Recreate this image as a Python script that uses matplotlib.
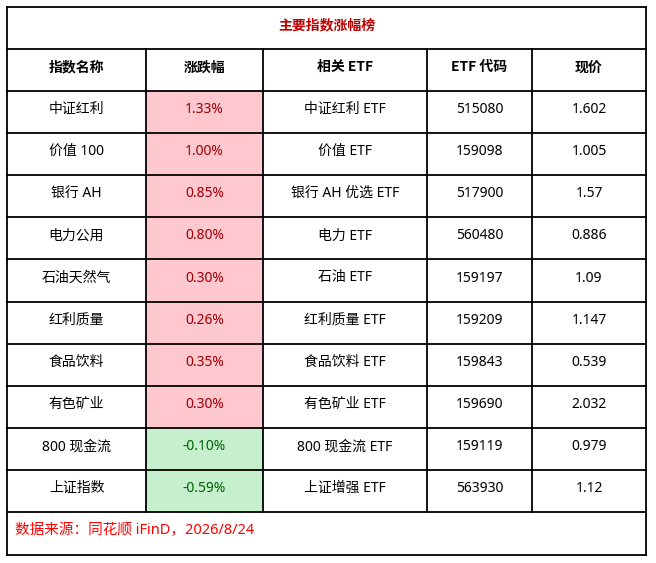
import matplotlib
matplotlib.use("Agg")
import matplotlib.pyplot as plt
from matplotlib.patches import Rectangle

plt.rcParams['font.family'] = ['Noto Sans', 'Noto Sans CJK SC', 'DejaVu Sans']
BOLD_FAMILY = ['Noto Sans CJK SC', 'DejaVu Sans']

title = "主要指数涨幅榜"
headers = ["指数名称", "涨跌幅", "相关 ETF", "ETF 代码", "现价"]
index_names = ["中证红利", "价值 100", "银行 AH", "电力公用", "石油天然气",
               "红利质量", "食品饮料", "有色矿业", "800 现金流", "上证指数"]
changes = [1.33, 1.00, 0.85, 0.80, 0.30, 0.26, 0.35, 0.30, -0.10, -0.59]
etf_names = ["中证红利 ETF", "价值 ETF", "银行 AH 优选 ETF", "电力 ETF", "石油 ETF",
             "红利质量 ETF", "食品饮料 ETF", "有色矿业 ETF", "800 现金流 ETF", "上证增强 ETF"]
etf_codes = ["515080", "159098", "517900", "560480", "159197",
             "159209", "159843", "159690", "159119", "563930"]
prices = ["1.602", "1.005", "1.57", "0.886", "1.09",
          "1.147", "0.539", "2.032", "0.979", "1.12"]
footer = "数据来源：同花顺 iFinD，2026/8/24"

W, H = 656, 563
fig = plt.figure(figsize=(W / 100, H / 100), dpi=100)
ax = fig.add_axes([0, 0, 1, 1])
ax.set_xlim(0, W)
ax.set_ylim(H, 0)
ax.axis('off')

col_x = [7, 146, 263, 427, 532, 646]
top, bottom = 6.5, 554.5
nrows = 13
rh = (bottom - top) / nrows
row_y = [top + i * rh for i in range(nrows + 1)]

lw = 1.3
fs = 10
dy = -2.5  # text sits slightly above cell centre

# Colored change cells
for i, v in enumerate(changes):
    y0 = row_y[2 + i]
    fc = '#FFC7CE' if v >= 0 else '#C6EFCE'
    ax.add_patch(Rectangle((col_x[1], y0), col_x[2] - col_x[1], rh,
                           facecolor=fc, edgecolor='none', zorder=1))

# Horizontal lines
for y in row_y:
    ax.plot([col_x[0], col_x[-1]], [y, y], color='black', lw=lw, zorder=3,
            solid_capstyle='projecting')
# Outer verticals
for x in (col_x[0], col_x[-1]):
    ax.plot([x, x], [top, bottom], color='black', lw=lw, zorder=3)
# Inner verticals (header + data rows only)
for x in col_x[1:-1]:
    ax.plot([x, x], [row_y[1], row_y[12]], color='black', lw=lw, zorder=3)

# Title
ax.text((col_x[0] + col_x[-1]) / 2, (row_y[0] + row_y[1]) / 2 + dy, title,
        ha='center', va='center', fontsize=fs, fontweight='bold', color='#C00000',
        family=BOLD_FAMILY, zorder=4)

# Headers
for j, h in enumerate(headers):
    cx = (col_x[j] + col_x[j + 1]) / 2
    ax.text(cx, (row_y[1] + row_y[2]) / 2 + dy, h, ha='center', va='center',
            fontsize=fs, fontweight='bold', color='black', family=BOLD_FAMILY, zorder=4)

# Data
for i in range(len(index_names)):
    cy = (row_y[2 + i] + row_y[3 + i]) / 2 + dy
    v = changes[i]
    tc = '#9C0006' if v >= 0 else '#006100'
    cells = [(index_names[i], 'black'), (f"{v:.2f}%", tc), (etf_names[i], 'black'),
             (etf_codes[i], 'black'), (prices[i], 'black')]
    for j, (t, c) in enumerate(cells):
        cx = (col_x[j] + col_x[j + 1]) / 2
        ax.text(cx, cy, t, ha='center', va='center', fontsize=fs, color=c, zorder=4)

# Footer
ax.text(15, (row_y[12] + row_y[13]) / 2 + dy, footer, ha='left', va='center',
        fontsize=10.5, color='#FF0000', zorder=4)

fig.savefig('out.png', dpi=100, facecolor='white')
